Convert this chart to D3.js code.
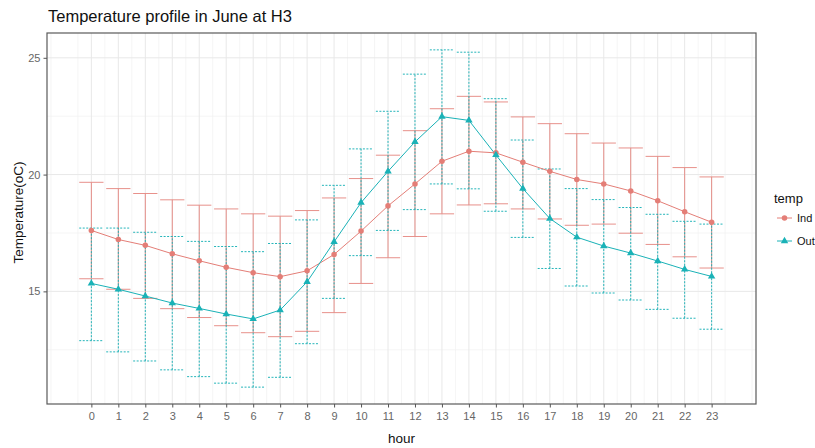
<!DOCTYPE html>
<html>
<head>
<meta charset="utf-8">
<script src="https://cdn.jsdelivr.net/npm/d3@7/dist/d3.min.js"></script>
<style>
  body { margin: 0; background: #fff; }
  text { font-family: "Liberation Sans", Arial, sans-serif; }
</style>
</head>
<body>
<div id="chart"></div>
<script>
// hours 0..23
var hours = d3.range(0, 24);

// Ind series: mean, upper, lower
var indMean  = [17.61, 17.22, 16.97, 16.61, 16.31, 16.03, 15.80, 15.63, 15.88, 16.58, 17.58, 18.66,
                19.60, 20.57, 21.00, 20.93, 20.53, 20.14, 19.79, 19.60, 19.30, 18.88, 18.41, 17.96];
var indUpper = [19.67, 19.40, 19.19, 18.92, 18.69, 18.53, 18.32, 18.22, 18.46, 19.00, 19.83, 20.83,
                21.88, 22.82, 23.35, 23.11, 22.47, 22.18, 21.75, 21.35, 21.14, 20.78, 20.30, 19.90];
var indLower = [15.54, 15.09, 14.70, 14.26, 13.88, 13.53, 13.23, 13.06, 13.29, 14.09, 15.34, 16.44,
                17.35, 18.32, 18.70, 18.75, 18.53, 18.10, 17.83, 17.88, 17.49, 17.01, 16.48, 16.00];

// Out series: mean, upper, lower
var outMean  = [15.34, 15.09, 14.80, 14.50, 14.27, 14.03, 13.82, 14.20, 15.41, 17.12, 18.80, 20.14,
                21.40, 22.48, 22.32, 20.84, 19.40, 18.12, 17.32, 16.94, 16.64, 16.30, 15.94, 15.64];
var outUpper = [17.71, 17.71, 17.53, 17.35, 17.14, 16.92, 16.70, 17.05, 18.06, 19.54, 21.10, 22.71,
                24.30, 25.34, 25.24, 23.25, 21.48, 20.24, 19.40, 18.93, 18.59, 18.30, 18.00, 17.88];
var outLower = [12.89, 12.41, 12.02, 11.64, 11.35, 11.07, 10.90, 11.32, 12.76, 14.70, 16.53, 17.61,
                18.50, 19.60, 19.39, 18.43, 17.31, 15.98, 15.23, 14.93, 14.63, 14.23, 13.85, 13.38];

var yTicks = [15, 20, 25];
var capWidth = 0.9;

var seriesNames = ['Ind', 'Out'];
var colors = {Ind: '#E47E77', Out: '#1AB2B7'};

function build(name, mean, up, lo) {
  return hours.map(function(h, i){ return {hour: h, mean: mean[i], up: up[i], lo: lo[i], name: name}; });
}
var series = [
  {name: 'Ind', values: build('Ind', indMean, indUpper, indLower)},
  {name: 'Out', values: build('Out', outMean, outUpper, outLower)}
];

var width = 815, height = 448;
var margin = {top: 33, right: 59, bottom: 44, left: 47};
var pw = width - margin.left - margin.right,
    ph = height - margin.top - margin.bottom;

var svg = d3.select('#chart').append('svg')
    .attr('width', width)
    .attr('height', height);

// ggplot-ish 5% expansion
var xMin = -capWidth / 2, xMax = 23 + capWidth / 2;
var xPad = (xMax - xMin) * 0.05;
var x = d3.scaleLinear().domain([xMin - xPad, xMax + xPad]).range([0, pw]);

var allY = indUpper.concat(indLower, outUpper, outLower);
var yMin = d3.min(allY), yMax = d3.max(allY), yPad = (yMax - yMin) * 0.05;
var y = d3.scaleLinear().domain([yMin - yPad, yMax + yPad]).range([ph, 0]);

var g = svg.append('g').attr('transform', 'translate(' + margin.left + ',' + margin.top + ')');

//grid
var minorX = d3.range(Math.ceil(x.domain()[0] * 2) / 2, x.domain()[1], 0.5).filter(function(v){ return v % 1 !== 0; });
var minorY = [12.5, 17.5, 22.5];

g.selectAll('.gx-minor').data(minorX).enter().append('line')
    .attr('x1', function(d){ return x(d); }).attr('x2', function(d){ return x(d); })
    .attr('y1', 0).attr('y2', ph)
    .attr('stroke', '#f0f0f0').attr('stroke-width', 0.7);
g.selectAll('.gy-minor').data(minorY).enter().append('line')
    .attr('x1', 0).attr('x2', pw)
    .attr('y1', function(d){ return y(d); }).attr('y2', function(d){ return y(d); })
    .attr('stroke', '#f0f0f0').attr('stroke-width', 0.7);
g.selectAll('.gx').data(hours).enter().append('line')
    .attr('x1', function(d){ return x(d); }).attr('x2', function(d){ return x(d); })
    .attr('y1', 0).attr('y2', ph)
    .attr('stroke', '#e8e8e8').attr('stroke-width', 1);
g.selectAll('.gy').data(yTicks).enter().append('line')
    .attr('x1', 0).attr('x2', pw)
    .attr('y1', function(d){ return y(d); }).attr('y2', function(d){ return y(d); })
    .attr('stroke', '#e8e8e8').attr('stroke-width', 1);

//error bars
series.forEach(function(s){
  var eb = g.append('g')
      .attr('stroke', colors[s.name])
      .attr('stroke-width', 1)
      .attr('stroke-dasharray', s.name === 'Out' ? '2,1.5' : null)
      .attr('opacity', s.name === 'Ind' ? 0.85 : 0.95)
      .attr('fill', 'none');
  s.values.forEach(function(d){
    eb.append('line').attr('x1', x(d.hour)).attr('x2', x(d.hour)).attr('y1', y(d.lo)).attr('y2', y(d.up));
    eb.append('line').attr('x1', x(d.hour - capWidth/2)).attr('x2', x(d.hour + capWidth/2)).attr('y1', y(d.up)).attr('y2', y(d.up));
    eb.append('line').attr('x1', x(d.hour - capWidth/2)).attr('x2', x(d.hour + capWidth/2)).attr('y1', y(d.lo)).attr('y2', y(d.lo));
  });
});

//lines
var line = d3.line().x(function(d){ return x(d.hour); }).y(function(d){ return y(d.mean); });
series.forEach(function(s){
  g.append('path').datum(s.values)
      .attr('d', line)
      .attr('fill', 'none')
      .attr('stroke', colors[s.name])
      .attr('stroke-width', 1);
});

//points
var circleSym = d3.symbol().type(d3.symbolCircle).size(24);
var triSym = d3.symbol().type(d3.symbolTriangle).size(24);
series.forEach(function(s){
  g.selectAll('.pt-' + s.name).data(s.values).enter().append('path')
      .attr('transform', function(d){ return 'translate(' + x(d.hour) + ',' + y(d.mean) + ')'; })
      .attr('d', s.name === 'Ind' ? circleSym : triSym)
      .attr('fill', colors[s.name]);
});

//panel border
g.append('rect').attr('width', pw).attr('height', ph)
    .attr('fill', 'none').attr('stroke', '#5a5a5a').attr('stroke-width', 1.2);

//axes
var xAxis = g.append('g').attr('transform', 'translate(0,' + ph + ')')
    .call(d3.axisBottom(x).tickValues(hours).tickSize(3.5).tickPadding(5).tickFormat(d3.format('d')));
var yAxis = g.append('g')
    .call(d3.axisLeft(y).tickValues(yTicks).tickSize(3.5).tickPadding(3));
[xAxis, yAxis].forEach(function(a){
  a.select('.domain').remove();
  a.selectAll('line').attr('stroke', '#555');
  a.selectAll('text').attr('fill', '#666').style('font-size', '11px')
      .style('font-family', '"Liberation Sans", Arial, sans-serif');
});

//titles
svg.append('text').attr('x', 48).attr('y', 22)
    .style('font-size', '16.5px').attr('fill', '#111')
    .text('Temperature profile in June at H3');
svg.append('text').attr('x', margin.left + pw / 2).attr('y', 443)
    .attr('text-anchor', 'middle').style('font-size', '13.5px').attr('fill', '#111')
    .text('hour');
svg.append('text')
    .attr('transform', 'translate(23,' + (margin.top + ph / 2 - 6) + ') rotate(-90)')
    .attr('text-anchor', 'middle').style('font-size', '13.5px').attr('fill', '#111')
    .text('Temperature(oC)');

//legend
var leg = svg.append('g').attr('transform', 'translate(770,0)');
leg.append('text').attr('x', 4).attr('y', 203).style('font-size', '13px').attr('fill', '#111').text('temp');
seriesNames.forEach(function(n, i){
  var cy = 218 + i * 23;
  leg.append('line').attr('x1', 7).attr('x2', 22).attr('y1', cy).attr('y2', cy)
      .attr('stroke', colors[n]).attr('stroke-width', 1);
  leg.append('path').attr('transform', 'translate(14.5,' + cy + ')')
      .attr('d', n === 'Ind' ? circleSym : triSym).attr('fill', colors[n]);
  leg.append('text').attr('x', 27).attr('y', cy + 4).style('font-size', '11px').attr('fill', '#111').text(n);
});
</script>
</body>
</html>
